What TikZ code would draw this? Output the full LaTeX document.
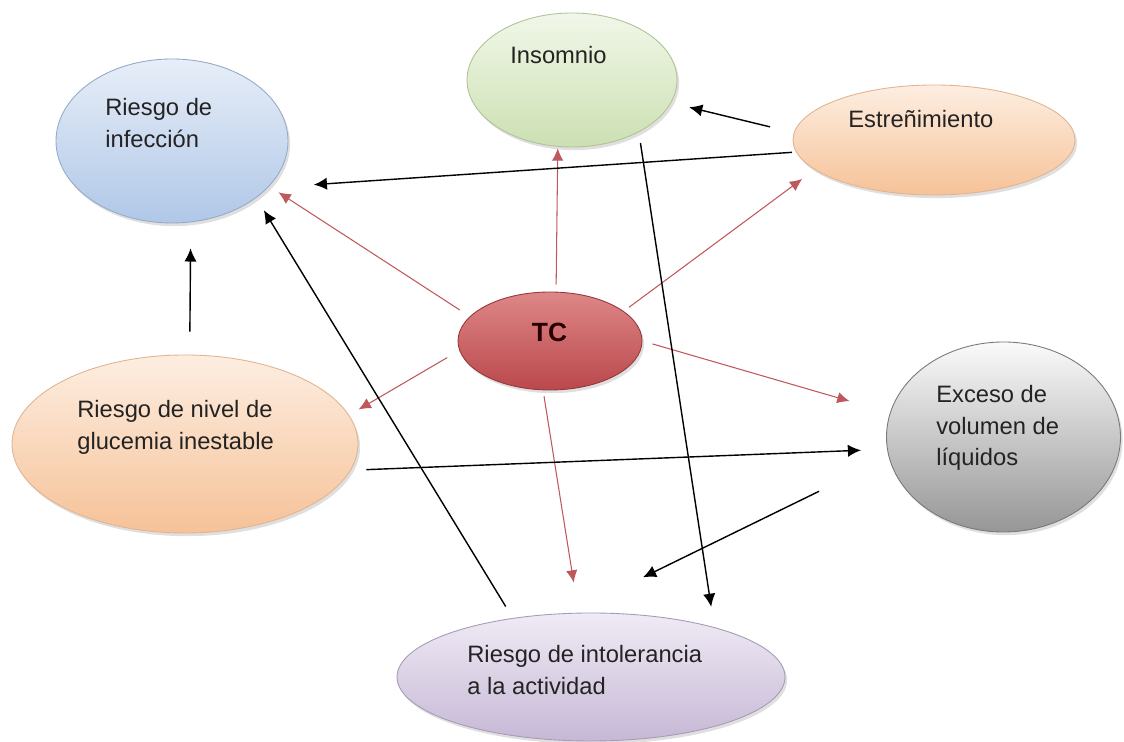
\documentclass[tikz,border=0pt]{standalone}
\usepackage{fontspec}
\setsansfont{Liberation Sans}
\usepackage{tikz}
\usetikzlibrary{shapes.geometric, shadows, arrows.meta}
\usepackage{xcolor}

\definecolor{infeTop}{RGB}{231,238,248}
\definecolor{infeBot}{RGB}{176,199,231}
\definecolor{infeLine}{RGB}{150,170,200}
\definecolor{insoTop}{RGB}{241,247,233}
\definecolor{insoBot}{RGB}{204,224,178}
\definecolor{insoLine}{RGB}{175,195,150}
\definecolor{peachTop}{RGB}{253,238,225}
\definecolor{peachBot}{RGB}{246,194,152}
\definecolor{peachLine}{RGB}{225,180,145}
\definecolor{tcTop}{RGB}{222,135,135}
\definecolor{tcBot}{RGB}{186,72,76}
\definecolor{tcLine}{RGB}{150,55,60}
\definecolor{grayTop}{RGB}{250,250,250}
\definecolor{grayBot}{RGB}{150,150,150}
\definecolor{grayLine}{RGB}{120,120,120}
\definecolor{lilaTop}{RGB}{240,235,245}
\definecolor{lilaBot}{RGB}{198,184,214}
\definecolor{lilaLine}{RGB}{165,155,180}
\definecolor{redArrow}{RGB}{190,88,92}
\definecolor{txtGray}{RGB}{35,35,35}

\tikzset{
  bubble/.style={ellipse, inner sep=0pt, line width=0.5pt,
    drop shadow={shadow xshift=1.2pt, shadow yshift=-1.8pt, opacity=0.25}},
  txt/.style={font=\sffamily\fontsize{13.5}{18}\selectfont, text=txtGray,
    align=left, inner sep=0pt, anchor=north west}
}

\begin{document}
\begin{tikzpicture}[font=\sffamily]
    \useasboundingbox (0,0) rectangle (22.48,14.84);
    % Add the diagnoses
        \node[bubble,
              minimum width=4.64cm, minimum height=3.28cm,
              top color=infeTop, bottom color=infeBot, draw=infeLine
              ] (infe) at (3.44,12.02) {};
        \node[bubble,
              minimum width=4.2cm, minimum height=2.68cm,
              top color=insoTop, bottom color=insoBot, draw=insoLine
              ] (inso) at (11.44,13.24) {};
        \node[bubble,
              minimum width=5.64cm, minimum height=2.2cm,
              top color=peachTop, bottom color=peachBot, draw=peachLine
              ] (estr) at (18.68,12.04) {};
        \node[bubble,
              minimum width=3.68cm, minimum height=1.96cm,
              top color=tcTop, bottom color=tcBot, draw=tcLine
              ] (tc) at (11.0,8.02) {};
        \node[bubble,
              minimum width=6.92cm, minimum height=3.56cm,
              top color=peachTop, bottom color=peachBot, draw=peachLine
              ] (gluc) at (3.7,5.96) {};
        \node[bubble,
              minimum width=4.68cm, minimum height=3.8cm,
              top color=grayTop, bottom color=grayBot, draw=grayLine
              ] (exce) at (20.07,6.10) {};
        \node[bubble,
              minimum width=7.76cm, minimum height=2.56cm,
              top color=lilaTop, bottom color=lilaBot, draw=lilaLine
              ] (into) at (11.82,1.30) {};

    % Texts
        \node[txt] (infe-t) at (2.10,12.88) {Riesgo de\\infección};
        \node[txt] (inso-t) at (10.20,13.92) {Insomnio};
        \node[txt] (estr-t) at (16.96,12.64) {Estreñimiento};
        \node[font=\sffamily\bfseries\fontsize{15}{18}\selectfont,
              text=black!85!red, inner sep=0pt] (tc-t) at (10.99,8.2) {TC};
        \node[txt] (gluc-t) at (1.54,6.84) {Riesgo de nivel de\\glucemia inestable};
        \node[txt] (exce-t) at (18.72,7.14) {Exceso de\\volumen de\\líquidos};
        \node[txt] (into-t) at (9.34,1.94) {Riesgo de intolerancia\\a la actividad};

       % from TC
       \path[->,
        >={Latex[length=7pt,width=6.5pt]},
        line width=0.6pt,
        color=redArrow]
			(tc.163) edge[shorten <=2.4mm, shorten >=2.2mm] (infe.-25)
			(tc.83) edge[shorten <=1.4mm, shorten >=0.3mm] (inso.258)
			(tc.22.4) edge[shorten <=1.3mm, shorten >=3.1mm] (estr.194.1)
			(tc.186.6) edge[shorten <=2.8mm, shorten >=2.2mm] (gluc.10.7)
			(tc.-0.7) edge[shorten <=2.1mm, shorten >=8.4mm] (exce.168.3)
			(tc.262.4) edge[shorten <=1.2mm, shorten >=6.1mm] (into.101.8)
            ;
       % between the others
       \path[->,
        >={Latex[length=7.5pt,width=7pt]},
        line width=0.8pt,
        color=black]
			(estr.177.5) edge[shorten <=4.9mm, shorten >=3.7mm] (inso.-13.6)
			(estr.185.3) edge[shorten <=0.8mm, shorten >=9.2mm] (infe.-26.3)
			(gluc.87) edge[shorten <=4.6mm, shorten >=5.2mm] (infe.-77)
			(into.143.1) edge[shorten <=2.7mm, shorten >=2.9mm] (infe.-34.2)
			(inso.-38.1) edge[shorten <=2.2mm, shorten >=4.1mm] (into.22.1)
			(gluc.-9.5) edge[shorten <=3.1mm, shorten >=5.2mm] (exce.186.4)
			(exce.190.5) edge[shorten <=15.5mm, shorten >=16.2mm] (into.108.1)
            ;
    \end{tikzpicture}
\end{document}
